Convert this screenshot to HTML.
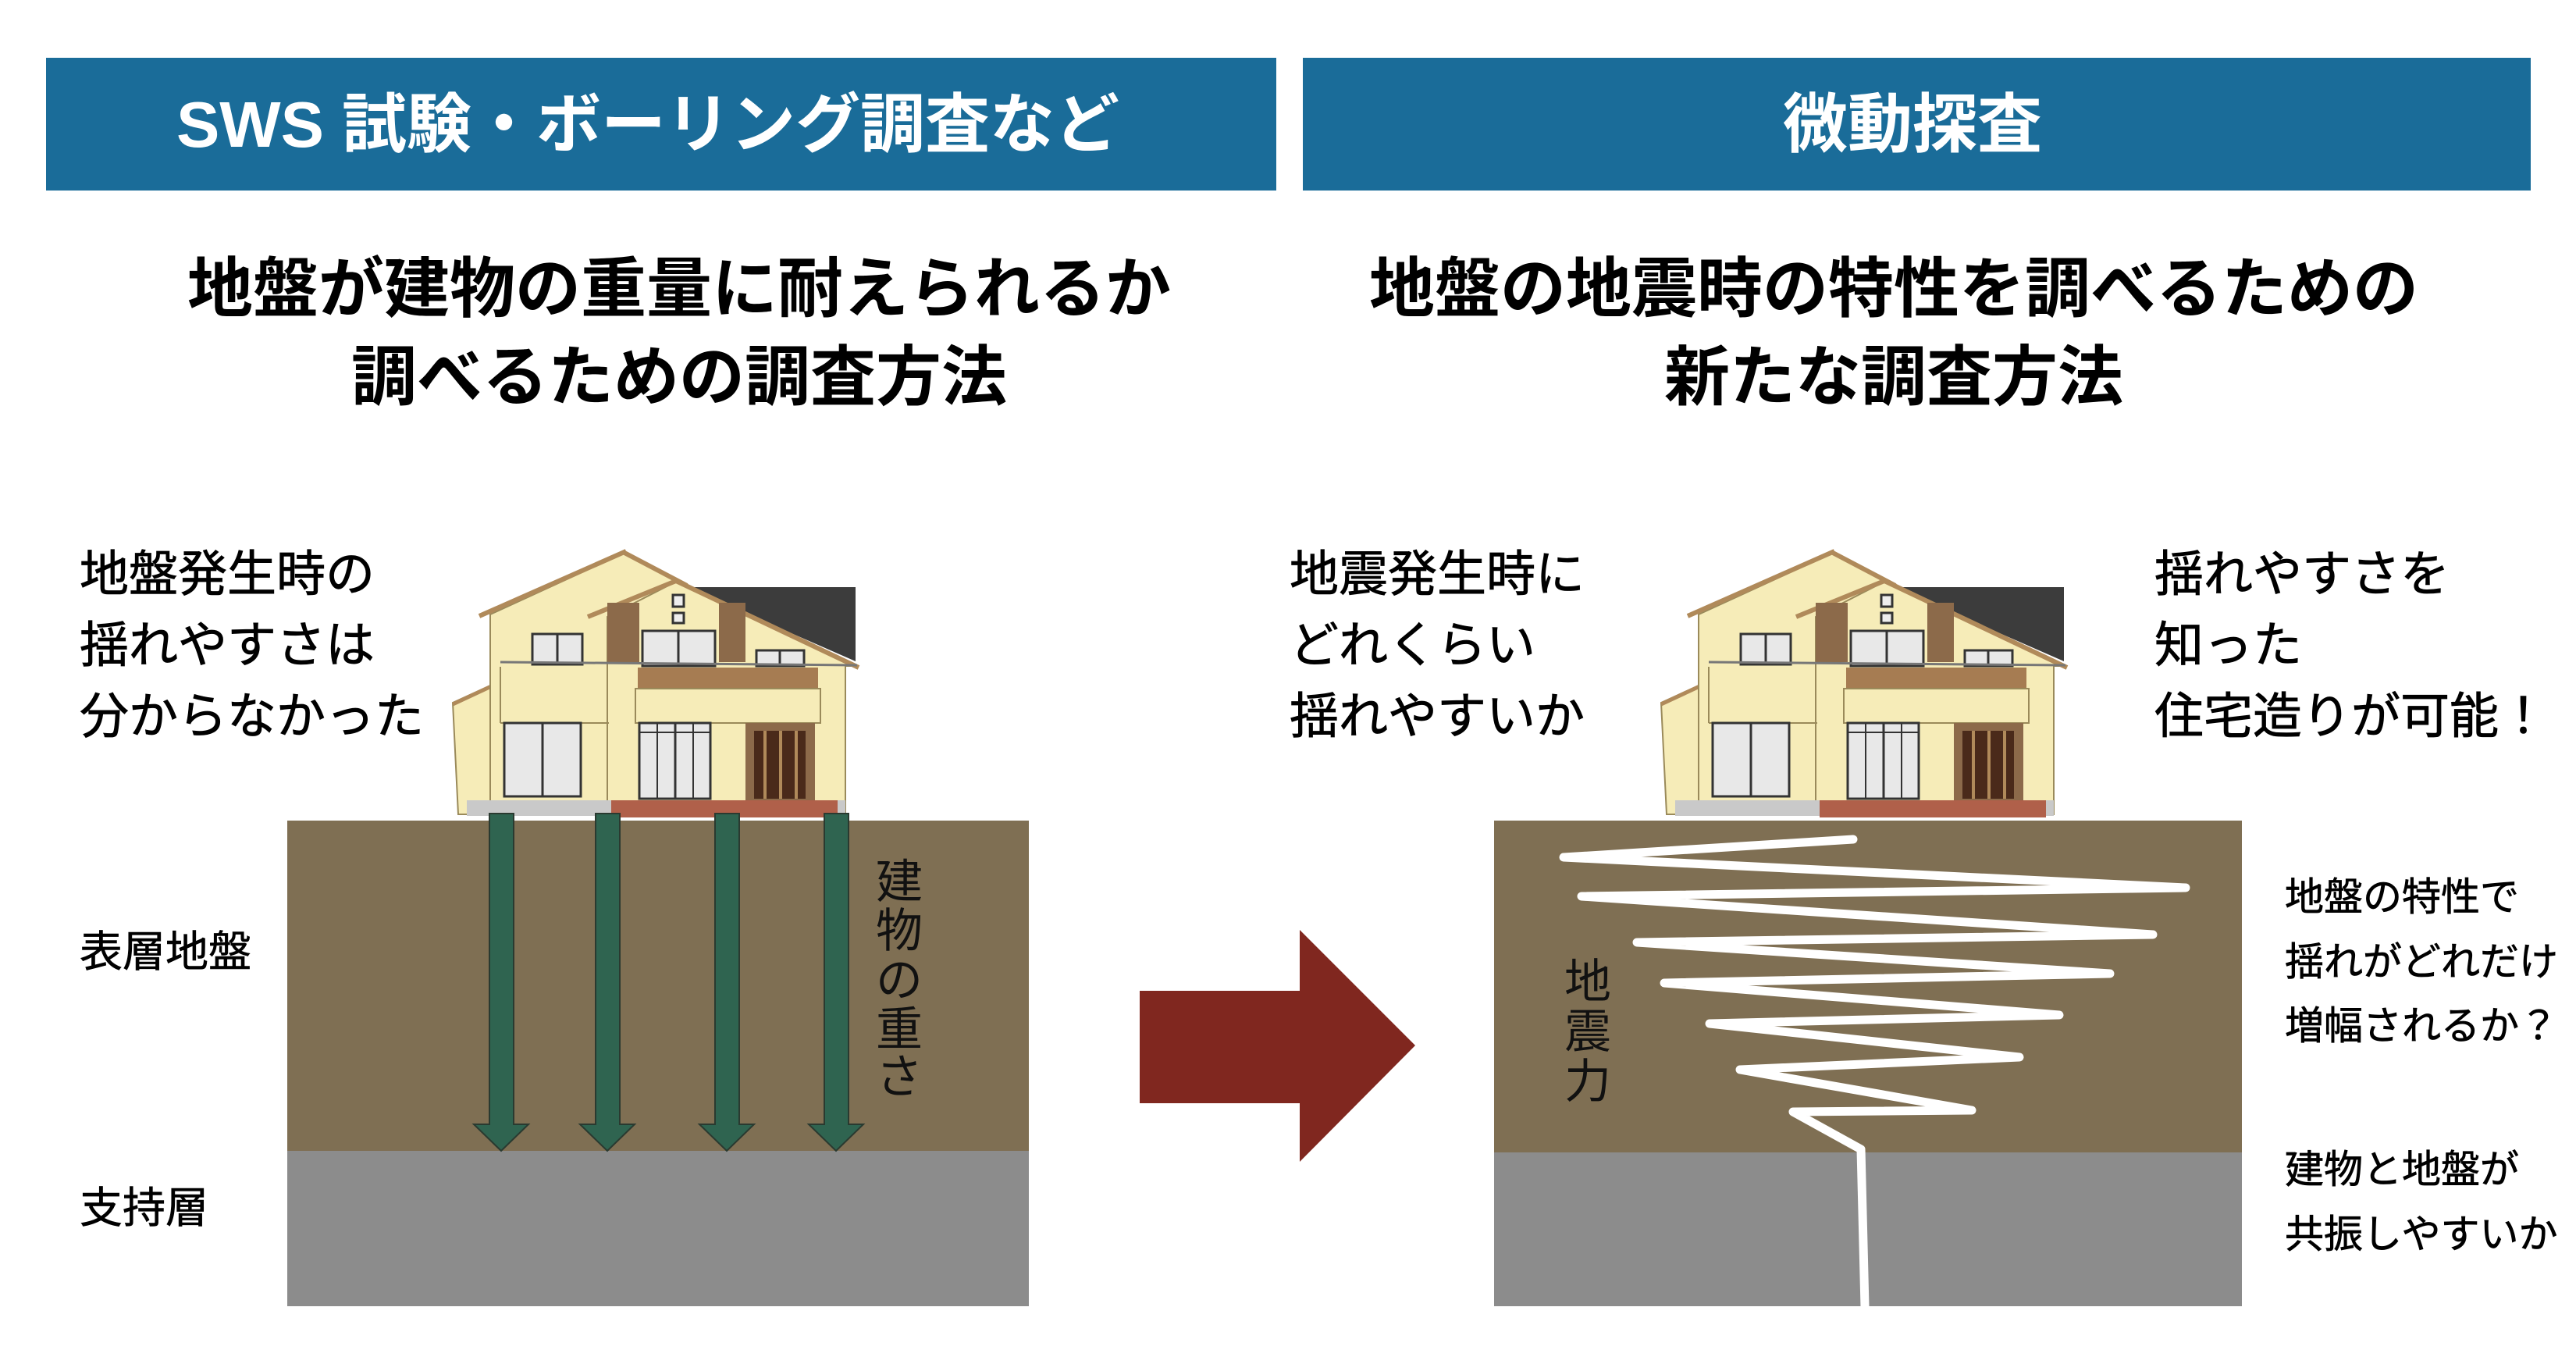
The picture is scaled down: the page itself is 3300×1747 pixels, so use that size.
<!DOCTYPE html>
<html><head><meta charset="utf-8"><style>
html,body{margin:0;padding:0;background:#fff}
svg{display:block}
text{font-family:"Liberation Sans","Noto Sans CJK JP",sans-serif}
</style></head><body>
<svg width="3300" height="1747" viewBox="0 0 3300 1747" xmlns="http://www.w3.org/2000/svg">
<defs>
<g id="house">
  <polygon points="580,900 637,874 637,1043 587,1043" fill="#f6ecb8" stroke="#9a8a5a" stroke-width="2"/>
  <line x1="580" y1="902" x2="640" y2="874" stroke="#b08a5a" stroke-width="5"/>
  <polygon points="628,787 800,708 866,745 866,1043 628,1043" fill="#f6ecb8" stroke="#9a8a5a" stroke-width="2"/>
  <polygon points="887,752 1096,752 1096,847 1000,805" fill="#3c3c3c"/>
  <polygon points="778,790 866,745 1099,853 1083,853 1083,1043 778,1043" fill="#f6ecb8" stroke="#9a8a5a" stroke-width="2"/>
  <line x1="614" y1="789" x2="802" y2="706" stroke="#b08a5a" stroke-width="6"/>
  <line x1="800" y1="708" x2="880" y2="750" stroke="#b08a5a" stroke-width="6"/>
  <line x1="753" y1="790" x2="866" y2="744" stroke="#b08a5a" stroke-width="6"/>
  <line x1="866" y1="744" x2="1100" y2="855" stroke="#b08a5a" stroke-width="6"/>
  <rect x="778" y="772" width="41" height="76" fill="#8c6a4a"/>
  <rect x="921" y="772" width="34" height="76" fill="#8c6a4a"/>
  <rect x="862" y="762" width="14" height="15" fill="#eee" stroke="#333" stroke-width="3"/>
  <rect x="862" y="785" width="14" height="13" fill="#eee" stroke="#333" stroke-width="3"/>
  <rect x="682" y="812" width="64" height="39" fill="#e8e8e8" stroke="#333" stroke-width="3"/>
  <line x1="714" y1="812" x2="714" y2="851" stroke="#333" stroke-width="3"/>
  <rect x="823" y="808" width="93" height="45" fill="#e8e8e8" stroke="#333" stroke-width="3"/>
  <line x1="869" y1="808" x2="869" y2="853" stroke="#333" stroke-width="3"/>
  <rect x="969" y="833" width="61" height="20" fill="#e8e8e8" stroke="#333" stroke-width="3"/>
  <line x1="999" y1="833" x2="999" y2="853" stroke="#333" stroke-width="3"/>
  <line x1="641" y1="848" x2="1098" y2="852" stroke="#777" stroke-width="3"/>
  <rect x="817" y="855" width="231" height="27" fill="#a67c52"/>
  <rect x="814" y="882" width="237" height="44" fill="#f6ecb8" stroke="#9a8a5a" stroke-width="2"/>
  <line x1="641" y1="854" x2="641" y2="926" stroke="#9a8a5a" stroke-width="2"/>
  <line x1="641" y1="926" x2="780" y2="926" stroke="#9a8a5a" stroke-width="2"/>
  <rect x="646" y="926" width="98" height="94" fill="#e8e8e8" stroke="#333" stroke-width="3"/>
  <line x1="695" y1="926" x2="695" y2="1020" stroke="#333" stroke-width="3"/>
  <rect x="819" y="926" width="91" height="97" fill="#e8e8e8" stroke="#333" stroke-width="3"/>
  <line x1="819" y1="938" x2="910" y2="938" stroke="#333" stroke-width="2"/>
  <line x1="842" y1="926" x2="842" y2="1023" stroke="#333" stroke-width="2"/>
  <line x1="865" y1="926" x2="865" y2="1023" stroke="#333" stroke-width="3"/>
  <line x1="888" y1="926" x2="888" y2="1023" stroke="#333" stroke-width="2"/>
  <rect x="955" y="926" width="89" height="99" fill="#8c6a4a"/>
  <rect x="966" y="936" width="66" height="87" fill="#4a2a1a"/>
  <line x1="980" y1="936" x2="980" y2="1023" stroke="#b08a5a" stroke-width="4"/>
  <line x1="1000" y1="936" x2="1000" y2="1023" stroke="#b08a5a" stroke-width="4"/>
  <line x1="1020" y1="936" x2="1020" y2="1023" stroke="#b08a5a" stroke-width="4"/>
  <rect x="598" y="1025" width="485" height="20" fill="#c9c9c9"/>
  <rect x="783" y="1025" width="290" height="22" fill="#b0604a"/>
</g>
</defs>

<rect x="59" y="74" width="1576" height="170" fill="#1a6c99"/>
<rect x="1669" y="74" width="1573" height="170" fill="#1a6c99"/>
<text x="830" y="188" font-size="83" font-weight="bold" fill="#fff" text-anchor="middle">SWS 試験・ボーリング調査など</text>
<text x="2450" y="188" font-size="83" font-weight="bold" fill="#fff" text-anchor="middle">微動探査</text>

<text x="870" y="399" font-size="84" font-weight="bold" fill="#000" text-anchor="middle">地盤が建物の重量に耐えられるか</text>
<text x="870" y="512" font-size="84" font-weight="bold" fill="#000" text-anchor="middle">調べるための調査方法</text>
<text x="2426" y="399" font-size="84" font-weight="bold" fill="#000" text-anchor="middle">地盤の地震時の特性を調べるための</text>
<text x="2426" y="512" font-size="84" font-weight="bold" fill="#000" text-anchor="middle">新たな調査方法</text>

<rect x="368" y="1051" width="950" height="423" fill="#7f6f53"/>
<rect x="368" y="1474" width="950" height="199" fill="#8c8c8c"/>
<use href="#house"/>
<g fill="#2f6450" stroke="#2a3a30" stroke-width="2">
  <polygon points="627,1042 658,1042 658,1440 677,1440 642,1474 607,1440 627,1440"/>
  <polygon points="763,1042 794,1042 794,1440 813,1440 778,1474 743,1440 763,1440"/>
  <polygon points="916,1042 947,1042 947,1440 966,1440 931,1474 896,1440 916,1440"/>
  <polygon points="1056,1042 1087,1042 1087,1440 1106,1440 1071,1474 1036,1440 1056,1440"/>
</g>
<text font-size="60" fill="#111" text-anchor="middle" x="1152" y="1150">建</text>
<text font-size="60" fill="#111" text-anchor="middle" x="1152" y="1213">物</text>
<text font-size="60" fill="#111" text-anchor="middle" x="1152" y="1276">の</text>
<text font-size="60" fill="#111" text-anchor="middle" x="1152" y="1339">重</text>
<text font-size="60" fill="#111" text-anchor="middle" x="1152" y="1400">さ</text>

<g font-size="63" fill="#000" stroke="#000" stroke-width="0.8">
<text x="102" y="757">地盤発生時の</text>
<text x="102" y="848">揺れやすさは</text>
<text x="102" y="939">分からなかった</text>
</g>
<text x="102" y="1238" font-size="55" fill="#000" stroke="#000" stroke-width="0.6">表層地盤</text>
<text x="102" y="1566" font-size="55" fill="#000" stroke="#000" stroke-width="0.6">支持層</text>

<polygon points="1460,1269 1665,1269 1665,1191 1813,1339 1665,1488 1665,1413 1460,1413" fill="#80271f"/>

<rect x="1914" y="1051" width="958" height="425" fill="#7f6f53"/>
<rect x="1914" y="1476" width="958" height="197" fill="#8c8c8c"/>
<use href="#house" transform="translate(1548,0)"/>
<polyline points="2374,1075 2003,1098 2800,1137 2026,1148 2758,1197 2097,1207 2703,1247 2132,1259 2638,1300 2190,1311 2587,1354 2229,1370 2526,1422 2297,1424 2384,1472 2389,1674" fill="none" stroke="#fff" stroke-width="11" stroke-linejoin="round" stroke-linecap="round"/>
<text font-size="60" fill="#111" text-anchor="middle" x="2034" y="1278">地</text>
<text font-size="60" fill="#111" text-anchor="middle" x="2034" y="1342">震</text>
<text font-size="60" fill="#111" text-anchor="middle" x="2034" y="1406">力</text>

<g font-size="63" fill="#000" stroke="#000" stroke-width="0.8">
<text x="1652" y="757">地震発生時に</text>
<text x="1652" y="848">どれくらい</text>
<text x="1652" y="939">揺れやすいか</text>
<text x="2760" y="757">揺れやすさを</text>
<text x="2760" y="848">知った</text>
<text x="2760" y="939">住宅造りが可能！</text>
</g>
<g font-size="50" fill="#000" stroke="#000" stroke-width="0.7">
<text x="2927" y="1166">地盤の特性で</text>
<text x="2927" y="1249">揺れがどれだけ</text>
<text x="2927" y="1331">増幅されるか？</text>
<text x="2927" y="1515">建物と地盤が</text>
<text x="2927" y="1598">共振しやすいか</text>
</g>
</svg>
</body></html>
